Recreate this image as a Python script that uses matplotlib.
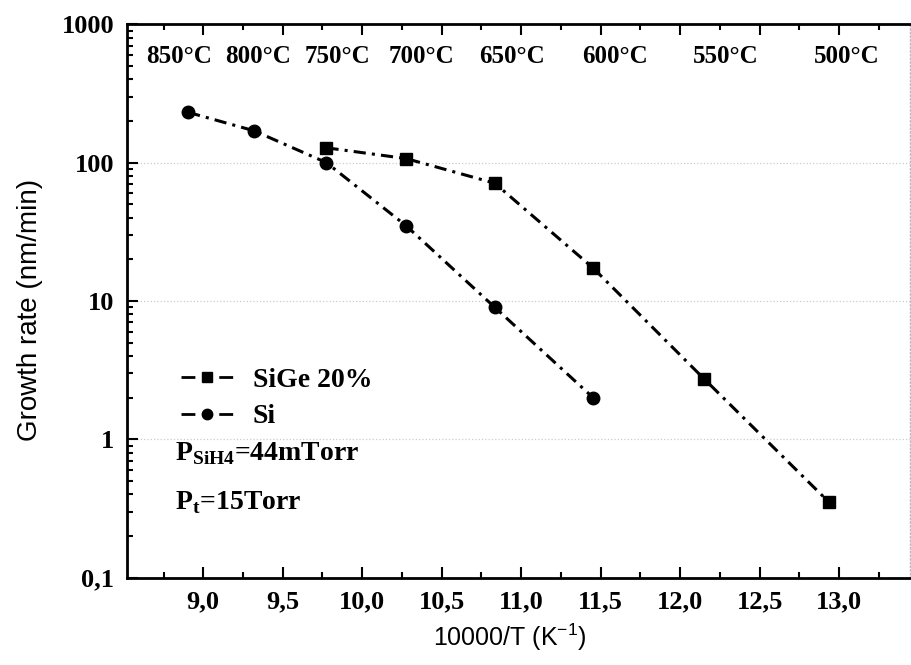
import matplotlib
matplotlib.use('Agg')
import matplotlib.pyplot as plt
from matplotlib.lines import Line2D

plt.rcParams['mathtext.fontset'] = 'custom'
plt.rcParams['mathtext.rm'] = 'Liberation Serif'
plt.rcParams['mathtext.bf'] = 'Liberation Serif:bold'
plt.rcParams['mathtext.sf'] = 'Liberation Sans'

# data (x = 10000/T in K^-1, y = growth rate nm/min)
si_x = [8.905, 9.319, 9.775, 10.276, 10.834, 11.453]
si_y = [231, 170, 100, 35, 9.0, 2.0]
sige_x = [9.775, 10.276, 10.834, 11.453, 12.149, 12.934]
sige_y = [128, 107, 71, 17.3, 2.75, 0.354]

temp_labels = ['850°C', '800°C', '750°C', '700°C', '650°C', '600°C', '550°C', '500°C']
temp_label_x = [8.847, 9.344, 9.847, 10.376, 10.943, 11.592, 12.29, 13.05]

x_ticks = [9.0, 9.5, 10.0, 10.5, 11.0, 11.5, 12.0, 12.5, 13.0]
x_ticklabels = ['9,0', '9,5', '10,0', '10,5', '11,0', '11,5', '12,0', '12,5', '13,0']
y_ticks = [0.1, 1, 10, 100, 1000]
y_ticklabels = ['0,1', '1', '10', '100', '1000']

serif_bold = dict(family='Liberation Serif', weight='bold')

fig = plt.figure(figsize=(9.11, 6.65), dpi=100)
ax = fig.add_axes([0.139, 0.1313, 0.86, 0.8322])

dash = (0, (4, 2, 1, 2))
ax.plot(sige_x, sige_y, color='black', lw=2.2, linestyle=dash,
        marker='s', markersize=8.5, zorder=3)
ax.plot(si_x, si_y, color='black', lw=2.2, linestyle=dash,
        marker='o', markersize=9, zorder=3)

ax.set_yscale('log')
ax.set_xlim(8.518, 13.447)
ax.set_ylim(0.1, 1000)

ax.set_xticks(x_ticks)
ax.set_xticks([t + 0.25 for t in [8.5] + x_ticks], minor=True)
ax.set_xticklabels(x_ticklabels, fontdict=serif_bold, fontsize=19)
ax.set_yticks(y_ticks)
ax.set_yticklabels(y_ticklabels, fontdict=serif_bold, fontsize=19)

ax.tick_params(which='major', direction='in', length=8, width=1.5,
               top=True, right=False, pad=9)
ax.tick_params(which='minor', direction='in', length=4.5, width=1.5,
               top=True, right=False)
ax.tick_params(axis='y', which='minor', labelleft=False)

for side in ['left', 'bottom', 'top']:
    ax.spines[side].set_linewidth(2)
ax.spines['right'].set_linestyle(':')
ax.spines['right'].set_color('#bbbbbb')
ax.spines['right'].set_linewidth(1)

ax.yaxis.grid(True, which='major', linestyle=':', color='#cccccc', lw=0.9)

ax.set_xlabel('10000/T (K$^{\\mathsf{-1}}$)', family='Liberation Sans', fontsize=18, va='center')
ax.xaxis.set_label_coords(0.489, -0.107)
ax.set_ylabel('Growth rate (nm/min)', family='Liberation Sans', fontsize=20, va='center')
ax.yaxis.set_label_coords(-0.123, 0.484)

# temperature labels along the top
for lab, xp in zip(temp_labels, temp_label_x):
    ax.text(xp, 0.93, lab, transform=ax.get_xaxis_transform(), ha='center',
            va='baseline', fontsize=18, **serif_bold)

# legend
h_sige = Line2D([], [], color='black', lw=2, linestyle=(0, (5, 8.6)),
                marker='s', markersize=6.5)
h_si = Line2D([], [], color='black', lw=2, linestyle=(0, (5, 8.6)),
              marker='o', markersize=7.5)
ax.legend([h_sige, h_si], ['SiGe 20%', 'Si'], loc='upper left',
          bbox_to_anchor=(0.069, 0.38), frameon=False, borderpad=0,
          borderaxespad=0, handlelength=1.9, handletextpad=0.7,
          labelspacing=0.4, prop=dict(family='Liberation Serif', weight='bold', size=20))

ax.text(0.0617, 0.2127, 'P$_{\\mathbf{SiH4}}$=44mTorr',
        transform=ax.transAxes, fontsize=20, va='baseline', ha='left', **serif_bold)
ax.text(0.0617, 0.124, 'P$_{\\mathbf{t}}$=15Torr',
        transform=ax.transAxes, fontsize=20, va='baseline', ha='left', **serif_bold)

fig.savefig('out.png', dpi=100)
